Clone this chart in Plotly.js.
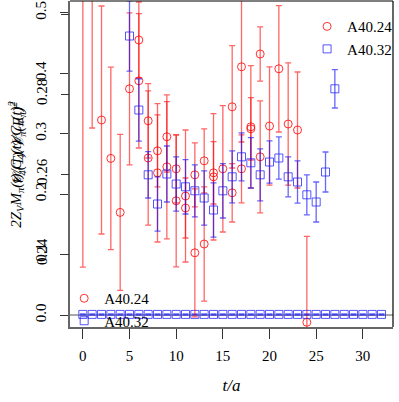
<!DOCTYPE html>
<html>
<head>
<meta charset="utf-8">
<script src="https://cdn.plot.ly/plotly-3.0.1.min.js"></script>
<style>
  html, body { margin: 0; padding: 0; background: #fff; }
  #plot { width: 399px; height: 402px; }
</style>
</head>
<body>
<div id="plot"></div>
<script>
// A40.24 / A40.32 ratio vs t/a, two overlaid panels (upper ratio + lower near-zero row)

// upper panel, A40.24, main points
const tRed      = [0, 1, 2, 3, 4, 5, 6, 7, 8, 9, 10, 11, 12, 13, 14, 15, 16, 17, 18, 19, 20, 21, 22, 23];
const redMain   = [0.311, 0.3085, 0.2735, 0.2639, 0.2504, 0.2813, 0.2935, 0.2733, 0.2658, 0.2693, 0.2613, 0.2545,
                   0.2598, 0.2633, 0.2603, 0.2613, 0.2768, 0.2868, 0.2718, 0.29, 0.272, 0.2863, 0.2725, 0.271];
const redMainErr = [0.0743, 0.037, 0.0285, 0.0228, 0.0195, 0.019, 0.0095, 0.0093, 0.009, 0.0088, 0.0085, 0.0165,
                    0.008, 0.008, 0.0078, 0.0158, 0.0153, 0.0188, 0.0153, 0.0068, 0.0148, 0.0158, 0.0153, 0.0145];

// upper panel, A40.24, second set of points
const tRedAlt    = [6, 7, 8, 9, 10, 11, 12, 13, 14, 16, 17, 18, 19];
const redAlt     = [0.2833, 0.264, 0.2603, 0.2618, 0.2533, 0.2515, 0.2403, 0.2425, 0.2593, 0.2553, 0.2613, 0.2713, 0.2643];
const redAltErr  = [0.0168, 0.0168, 0.0173, 0.018, 0.0165, 0.0075, 0.016, 0.0143, 0.0158, 0.0073, 0.0085, 0.0078, 0.014];

// upper panel, A40.32
const tBlue   = [5, 6, 7, 8, 9, 10, 11, 12, 13, 14, 15, 16, 17, 18, 19, 20, 21, 22, 23, 24, 25, 26, 27];
const blueVal = [0.2945, 0.276, 0.2598, 0.2525, 0.26, 0.2575, 0.2568, 0.2558, 0.254, 0.251, 0.2558, 0.2593,
                 0.2643, 0.2628, 0.2598, 0.263, 0.264, 0.2593, 0.258, 0.2548, 0.253, 0.2605, 0.2813];
const blueErr = [0.0088, 0.0078, 0.0058, 0.0068, 0.007, 0.0068, 0.0068, 0.0065, 0.0068, 0.0068, 0.0068, 0.0065,
                 0.006, 0.0063, 0.0065, 0.0053, 0.0053, 0.005, 0.0053, 0.005, 0.005, 0.005, 0.0048];

// lower panel
const tRedLow   = [24];
const redLow    = [-0.012];
const redLowErr = [0.142];
const tBlueLow  = [0, 1, 2, 3, 4, 5, 6, 7, 8, 9, 10, 11, 12, 13, 14, 15, 16, 17, 18, 19, 20, 21, 22, 23,
                   24, 25, 26, 27, 28, 29, 30, 31, 32];
const blueLow   = [0.001, 0.001, 0.001, 0.001, 0.001, 0.001, 0.001, 0.001, 0.001, 0.001, 0.001, 0.001,
                   0.001, 0.001, 0.001, 0.001, 0.001, 0.001, 0.001, 0.001, 0.001, 0.001, 0.001, 0.001,
                   0.001, 0.001, 0.001, 0.001, 0.001, 0.001, 0.001, 0.001, 0.001];

const xTicks   = [0, 5, 10, 15, 20, 25, 30];
const yTicks   = [0.0, 0.1, 0.2, 0.3, 0.4, 0.5];
const yLabels  = ['0.0', '0.1', '0.2', '0.3', '0.4', '0.5'];
const y2Ticks  = [0.24, 0.26, 0.28, 0.30];
const y2Labels = ['0.24', '0.26', '0.28', '0.30'];

const SERIF = 'Liberation Serif, DejaVu Serif, serif';
const RED = 'rgba(255,0,0,0.8)';
const RED_BAR = 'rgba(255,0,0,0.6)';
const BLUE = 'rgba(30,30,255,0.75)';
const BLUE_BAR = 'rgba(0,0,255,0.6)';

function redTrace(x, y, err, opts) {
  return Object.assign({
    x: x, y: y, type: 'scatter', mode: 'markers', cliponaxis: true,
    marker: { symbol: 'circle-open', size: 8, color: RED, line: { width: 1 } },
    error_y: { type: 'data', array: err, visible: true, color: RED_BAR, thickness: 1.3, width: 3 }
  }, opts);
}

function blueTrace(x, y, err, opts) {
  return Object.assign({
    x: x, y: y, type: 'scatter', mode: 'markers', cliponaxis: true,
    marker: { symbol: 'square-open', size: 8, color: BLUE, line: { width: 1 } },
    error_y: { type: 'data', array: err, visible: true, color: BLUE_BAR, thickness: 1.3, width: 3 }
  }, opts);
}

const traces = [
  redTrace(tRed, redMain, redMainErr, { yaxis: 'y2', name: 'A40.24', legend: 'legend' }),
  redTrace(tRedAlt, redAlt, redAltErr, { yaxis: 'y2', name: 'A40.24', showlegend: false }),
  blueTrace(tBlue, blueVal, blueErr, { yaxis: 'y2', name: 'A40.32', legend: 'legend' }),
  redTrace(tRedLow, redLow, redLowErr, { yaxis: 'y', name: 'A40.24', legend: 'legend2' }),
  blueTrace(tBlueLow, blueLow, blueLow.map(() => 0.001), { yaxis: 'y', name: 'A40.32', legend: 'legend2' })
];

const layout = {
  width: 399, height: 402,
  margin: { l: 70, r: 2, t: 1, b: 75 },
  paper_bgcolor: '#fff', plot_bgcolor: '#fff',
  font: { family: SERIF, size: 14, color: '#000' },
  showlegend: true,
  xaxis: {
    range: [-1.376, 33.23], tickvals: xTicks, ticks: 'outside', ticklen: 10, tickwidth: 1, tickcolor: '#333',
    showline: true, linecolor: '#666', linewidth: 2, showgrid: false, zeroline: false,
    tickfont: { family: SERIF, size: 15 }, ticklabelstandoff: 4,
    title: { text: '<i>t/a</i>', font: { family: SERIF, size: 17 }, standoff: 16 }
  },
  yaxis: {
    range: [-0.0198, 0.519], tickvals: yTicks, ticktext: yLabels, tickangle: -90,
    ticks: 'outside', ticklen: 8, tickwidth: 1, tickcolor: '#333',
    showline: true, linecolor: '#666', linewidth: 2, showgrid: false, zeroline: false,
    tickfont: { family: SERIF, size: 15 }, ticklabelstandoff: 8
  },
  yaxis2: {
    overlaying: 'y', side: 'left',
    range: [0.22175, 0.30325], tickvals: y2Ticks, ticktext: y2Labels, tickangle: -90,
    ticks: 'outside', ticklen: 8, tickwidth: 1, tickcolor: '#333',
    showline: false, showgrid: false, zeroline: false,
    tickfont: { family: SERIF, size: 15 }, ticklabelstandoff: 8
  },
  legend: {
    x: 0.734, y: 0.972, xanchor: 'left', yanchor: 'top', bgcolor: 'rgba(0,0,0,0)',
    font: { family: SERIF, size: 15 }, tracegroupgap: 0, itemwidth: 30
  },
  legend2: {
    x: -0.018, y: 0.138, xanchor: 'left', yanchor: 'top', bgcolor: 'rgba(0,0,0,0)',
    font: { family: SERIF, size: 15 }, tracegroupgap: 0, itemwidth: 30
  },
  shapes: [
    { type: 'line', xref: 'paper', yref: 'y', x0: 0, x1: 1, y0: 0, y1: 0, line: { color: '#555', width: 1 }, layer: 'below' },
    { type: 'line', xref: 'paper', yref: 'paper', x0: 0, x1: 1, y0: 1, y1: 1, line: { color: '#000', width: 1.2 } },
    { type: 'line', xref: 'paper', yref: 'paper', x0: 1, x1: 1, y0: 0, y1: 1, line: { color: '#000', width: 1.2 } }
  ],
  annotations: [
    { xref: 'paper', yref: 'paper', x: -0.205, y: 0.5, textangle: -90, showarrow: false,
      text: '<i>2Z<sub>V</sub>M<sub>π</sub>(t)/C<sub>4</sub>(t)/C<sub>π</sub>(t)<sup>2</sup></i>',
      font: { family: SERIF, size: 15 } },
    { xref: 'paper', yref: 'paper', x: -0.198, y: 0.56, textangle: -90, showarrow: false,
      text: '<i>𝒞<sub>4</sub>(T)/𝒞<sub>π</sub>(E<sub>π</sub>)<sup>2</sup></i>',
      font: { family: SERIF, size: 15 } }
  ]
};

Plotly.newPlot('plot', traces, layout, { displayModeBar: false, staticPlot: true });
</script>
</body>
</html>
